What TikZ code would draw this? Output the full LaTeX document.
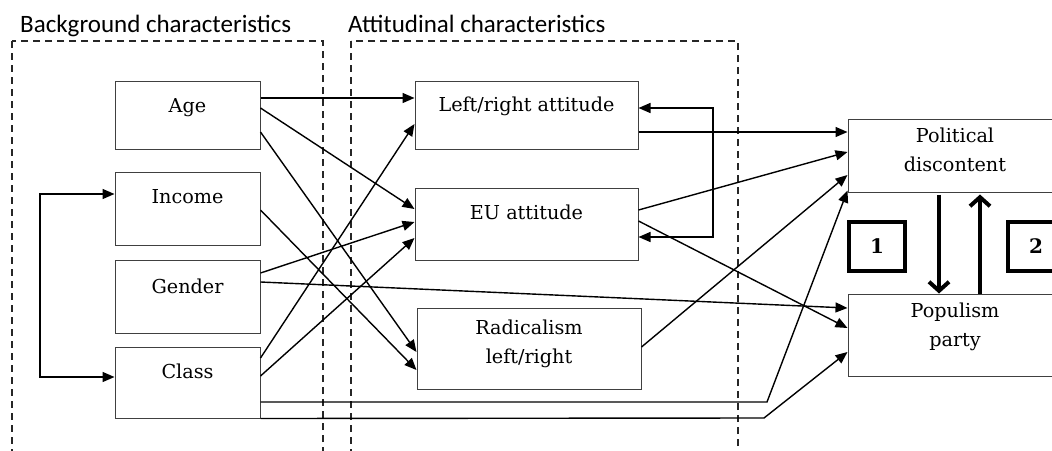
\documentclass[tikz,border=0pt]{standalone}
\usepackage{fontspec}
\setmainfont{DejaVu Serif}
\newfontfamily\titlefont{Carlito}
\usetikzlibrary{arrows.meta,calc}
\tikzset{
  box/.style={draw=black!75, line width=1pt, inner sep=0pt},
  lbl/.style={anchor=base, inner sep=0pt, font=\fontsize{19.2}{29}\selectfont, align=center},
  ttl/.style={anchor=base west, inner sep=0pt, font=\titlefont\fontsize{25}{28}\selectfont},
  grp/.style={draw=black!85, line width=1.4pt, dash pattern=on 7pt off 5pt},
  arr/.style={line width=1.4pt, -{Triangle[length=12pt,width=10pt]}},
  darr/.style={line width=1.4pt, {Triangle[length=12pt,width=10pt]}-{Triangle[length=12pt,width=10pt]}},
  thk/.style={line width=4pt, -{Straight Barb[length=9pt,width=20pt]}},
  numbox/.style={draw=black, line width=3.5pt, minimum width=56pt, minimum height=49pt, inner sep=0pt, font=\bfseries\fontsize{20}{22}\selectfont}
}
\begin{document}
\begin{tikzpicture}[x=1pt,y=-1pt]
\useasboundingbox (0,0) rectangle (1052,450);
\clip (0,0) rectangle (1052,450);
\fill[white] (0,0) rectangle (1052,450);
% titles
\node[ttl] (t1) at (20,32) {Background characteristics};
\node[ttl] (t2) at (348,32) {Attitudinal characteristics};
% group frames
\draw[grp] (12,41) rectangle (323,470);
\draw[grp] (351,41) rectangle (738,470);
% boxes
\node[box, minimum width=145pt, minimum height=68pt] (age) at (187.5,115) {};
\node[box, minimum width=145pt, minimum height=73pt] (inc) at (187.5,208.5) {};
\node[box, minimum width=145pt, minimum height=73pt] (gen) at (187.5,296.5) {};
\node[box, minimum width=145pt, minimum height=71pt] (cls) at (187.5,382.5) {};
\node[box, minimum width=223pt, minimum height=68pt] (lr) at (526.5,115) {};
\node[box, minimum width=223pt, minimum height=72pt] (eu) at (526.5,224) {};
\node[box, minimum width=224pt, minimum height=81pt] (rad) at (529,348.5) {};
\node[box, minimum width=214pt, minimum height=73pt] (pd) at (955,155.5) {};
\node[box, minimum width=214pt, minimum height=82pt] (pp) at (955,335) {};
% labels
\node[lbl] (agel) at (187.5,112) {Age};
\node[lbl] (incl) at (187.5,203) {Income};
\node[lbl] (genl) at (187.5,293) {Gender};
\node[lbl] (clsl) at (187.5,378) {Class};
\node[lbl] (lrl) at (526.5,111) {Left/right attitude};
\node[lbl] (eul) at (526.5,219) {EU attitude};
\node[lbl, anchor=north] (radl) at (529,320) {Radicalism\\left/right};
\node[lbl, anchor=north] (pdl) at (955,128) {Political\\discontent};
\node[lbl, anchor=north] (ppl) at (955,303) {Populism\\party};
% numbered boxes
\node[numbox] (n1) at (877,246.5) {1};
\node[numbox] (n2) at (1036,246.5) {2};
% coordinates
\coordinate (fbx) at (713,0);
\coordinate (lpx) at (40,0);
\coordinate (c9) at (767,402);
\coordinate (c10) at (764,418);
% connectors
\draw[arr] ([yshift=17]age.east) -- ([yshift=17]lr.west);
\draw[arr] ([yshift=7]age.east) -- ([yshift=15]eu.west);
\draw[arr] ([yshift=-17]age.east) -- ([yshift=-3.5]rad.west);
\draw[arr] ([yshift=-1.5]inc.east) -- ([yshift=-21.5]rad.west);
\draw[arr] ([yshift=23.5]gen.east) -- ([yshift=2]eu.west);
\draw[arr] ([yshift=14.5]gen.east) -- ([yshift=27]pp.west);
\draw[arr] ([yshift=24.5]cls.east) -- ([yshift=-9]lr.west);
\draw[arr] ([yshift=6.5]cls.east) -- ([yshift=-14]eu.west);
\draw[arr] ([yshift=-19.5]cls.east) -- (c9) -- ([yshift=2]pd.south west);
\draw[arr] (cls.south east) -- (c10) -- ([yshift=-17]pp.west);
\draw[arr] ([yshift=-17]lr.east) -- ([yshift=23.5]pd.west);
\draw[arr] ([yshift=14]eu.east) -- ([yshift=3.5]pd.west);
\draw[arr] ([yshift=1.5]rad.east) -- ([yshift=-19.5]pd.west);
\draw[arr] ([yshift=3]eu.east) -- ([yshift=7]pp.west);
\draw[darr] ([yshift=7]lr.east) -- ([yshift=7]lr.east -| fbx) -- ([yshift=-13]eu.east -| fbx) -- ([yshift=-13]eu.east);
\draw[darr] ([yshift=14.5]inc.west) -- ([yshift=14.5]inc.west -| lpx) -- ([yshift=5.5]cls.west -| lpx) -- ([yshift=5.5]cls.west);
\draw[thk] ([xshift=-16pt,yshift=-2pt]pd.south) -- ([xshift=-16pt]pp.north);
\draw[thk] ([xshift=25pt]pp.north) -- ([xshift=25pt,yshift=-2pt]pd.south);
\end{tikzpicture}
\end{document}
